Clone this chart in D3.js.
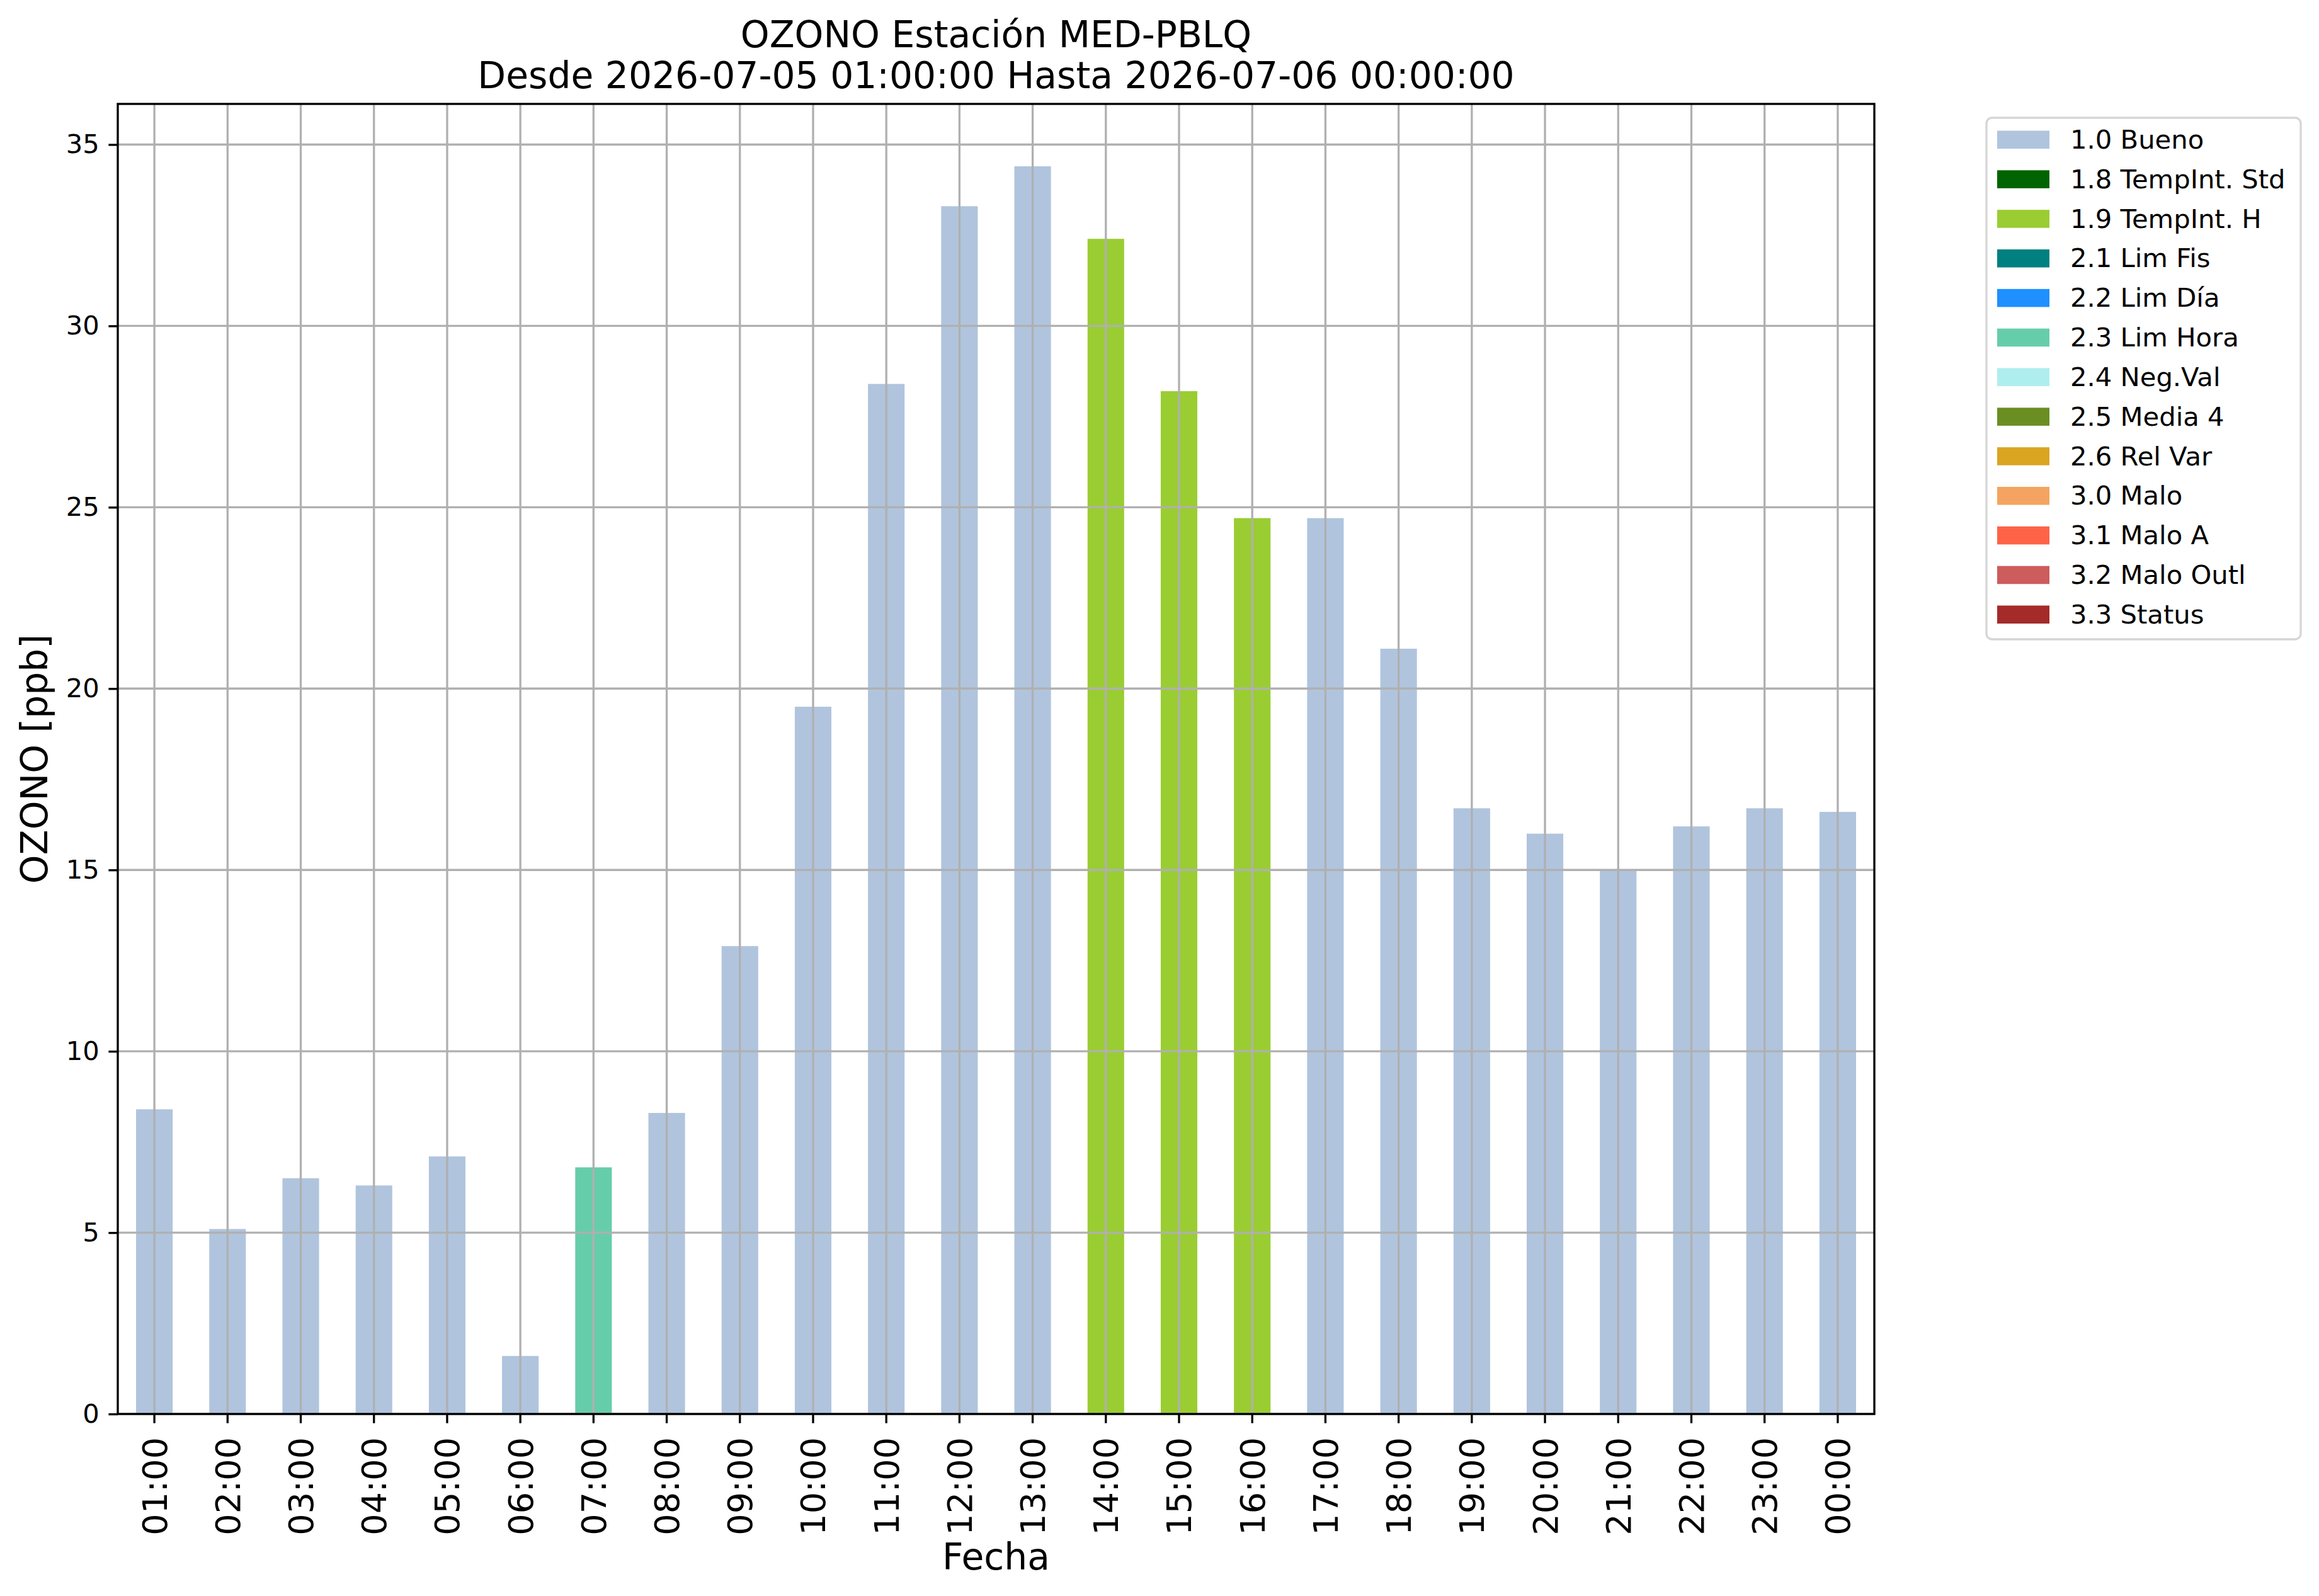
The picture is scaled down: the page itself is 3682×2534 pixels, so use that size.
<!DOCTYPE html>
<html lang="es">
<head>
    <meta charset="UTF-8">
    <title>OZONO Estación MED-PBLQ</title>
    <script type="text/javascript" src="https://d3js.org/d3.v7.min.js"></script>
    <style>
      body { margin: 0; background: #fff; }
      text { font-family: "DejaVu Sans", sans-serif; }
    </style>
</head>
<body>
<script type="text/javascript">
// Datos: horas, valores de ozono (ppb) y bandera de calidad de cada hora
var horas = ["01:00", "02:00", "03:00", "04:00", "05:00", "06:00", "07:00", "08:00",
             "09:00", "10:00", "11:00", "12:00", "13:00", "14:00", "15:00", "16:00",
             "17:00", "18:00", "19:00", "20:00", "21:00", "22:00", "23:00", "00:00"];
var valores = [8.4, 5.1, 6.5, 6.3, 7.1, 1.6, 6.8, 8.3, 12.9, 19.5, 28.4, 33.3,
               34.4, 32.4, 28.2, 24.7, 24.7, 21.1, 16.7, 16.0, 15.0, 16.2, 16.7, 16.6];
var banderas = ["1.0", "1.0", "1.0", "1.0", "1.0", "1.0", "2.3", "1.0", "1.0", "1.0", "1.0", "1.0",
                "1.0", "1.9", "1.9", "1.9", "1.0", "1.0", "1.0", "1.0", "1.0", "1.0", "1.0", "1.0"];

// Leyenda: códigos, etiquetas y colores
var codigos = ["1.0", "1.8", "1.9", "2.1", "2.2", "2.3", "2.4", "2.5", "2.6", "3.0", "3.1", "3.2", "3.3"];
var etiquetas = ["1.0 Bueno", "1.8 TempInt. Std", "1.9 TempInt. H", "2.1 Lim Fis", "2.2 Lim Día",
                 "2.3 Lim Hora", "2.4 Neg.Val", "2.5 Media 4", "2.6 Rel Var", "3.0 Malo",
                 "3.1 Malo A", "3.2 Malo Outl", "3.3 Status"];
var colores = ["#b0c4de", "#006400", "#9acd32", "#008080", "#1e90ff", "#66cdaa", "#afeeee",
               "#6b8e23", "#daa520", "#f4a460", "#ff6347", "#cd5c5c", "#a52a2a"];

var ticksY = [0, 5, 10, 15, 20, 25, 30, 35];

// Contenedor SVG
var ancho = 3682, alto = 2534;
var izq = 187, der = 2976, arriba = 165, abajo = 2245;
var lw = 3.33; // grosor de líneas (0.8 pt)

var svg = d3.select("body").append("svg")
    .attr("width", ancho)
    .attr("height", alto);

svg.append("rect").attr("width", ancho).attr("height", alto).attr("fill", "white");

// Escalas
var x = d3.scaleBand()
    .domain(horas)
    .range([izq, der])
    .paddingInner(0.5)
    .paddingOuter(0.25);

var y = d3.scaleLinear()
    .domain([0, d3.max(valores) * 1.05])
    .range([abajo, arriba]);

var color = d3.scaleOrdinal().domain(codigos).range(colores);

// Barras
svg.append("g").selectAll("rect")
    .data(valores)
    .enter()
    .append("rect")
    .attr("x", function(d, i) { return x(horas[i]); })
    .attr("y", function(d) { return y(d); })
    .attr("width", x.bandwidth())
    .attr("height", function(d) { return y(0) - y(d); })
    .attr("fill", function(d, i) { return color(banderas[i]); });

// Rejilla (encima de las barras, como en el original)
var rejilla = svg.append("g").attr("stroke", "#b0b0b0").attr("stroke-width", lw);
rejilla.selectAll("line.gx")
    .data(horas)
    .enter().append("line")
    .attr("x1", function(d) { return x(d) + x.bandwidth() / 2; })
    .attr("x2", function(d) { return x(d) + x.bandwidth() / 2; })
    .attr("y1", arriba)
    .attr("y2", abajo);
rejilla.selectAll("line.gy")
    .data(ticksY)
    .enter().append("line")
    .attr("x1", izq)
    .attr("x2", der)
    .attr("y1", function(d) { return y(d); })
    .attr("y2", function(d) { return y(d); });

// Eje Y
var ejeY = svg.append("g")
    .attr("transform", "translate(" + izq + ",0)")
    .call(d3.axisLeft(y).tickValues(ticksY).tickSize(14.6).tickPadding(14.6).tickFormat(d3.format("d")));
ejeY.select(".domain").remove();
ejeY.selectAll(".tick line").attr("stroke", "black").attr("stroke-width", lw);
ejeY.selectAll(".tick text")
    .attr("font-family", "DejaVu Sans")
    .attr("font-size", 41.7)
    .attr("fill", "black");

// Eje X
var ejeX = svg.append("g")
    .attr("transform", "translate(0," + abajo + ")")
    .call(d3.axisBottom(x).tickSize(14.6).tickPadding(14.6));
ejeX.select(".domain").remove();
ejeX.selectAll(".tick line").attr("stroke", "black").attr("stroke-width", lw);
ejeX.selectAll(".tick text")
    .attr("font-family", "DejaVu Sans")
    .attr("font-size", 54)
    .attr("fill", "black")
    .attr("text-anchor", "end")
    .attr("transform", "translate(0,37) rotate(-90)")
    .attr("x", 0)
    .attr("y", 0)
    .attr("dy", "0.36em");

// Marco de los ejes
svg.append("rect")
    .attr("x", izq).attr("y", arriba)
    .attr("width", der - izq).attr("height", abajo - arriba)
    .attr("fill", "none")
    .attr("stroke", "black")
    .attr("stroke-width", lw);

// Títulos
var cx = (izq + der) / 2;
svg.append("text").attr("x", cx).attr("y", 75).attr("text-anchor", "middle")
    .attr("font-size", 58.3).text("OZONO Estación MED-PBLQ");
svg.append("text").attr("x", cx).attr("y", 140).attr("text-anchor", "middle")
    .attr("font-size", 58.3).text("Desde 2026-07-05 01:00:00 Hasta 2026-07-06 00:00:00");
svg.append("text").attr("x", cx).attr("y", 2492).attr("text-anchor", "middle")
    .attr("font-size", 58.3).text("Fecha");
svg.append("text")
    .attr("transform", "translate(75," + ((arriba + abajo) / 2) + ") rotate(-90)")
    .attr("text-anchor", "middle")
    .attr("font-size", 58.3).text("OZONO [ppb]");

// Leyenda
var legX = 3154, legY = 187, paso = 62.83;
var leyenda = svg.append("g");
leyenda.append("rect")
    .attr("x", legX).attr("y", legY)
    .attr("width", 499).attr("height", 828)
    .attr("rx", 9).attr("ry", 9)
    .attr("fill", "white")
    .attr("stroke", "#d6d6d6")
    .attr("stroke-width", lw);
var filas = leyenda.selectAll("g.fila")
    .data(etiquetas)
    .enter().append("g")
    .attr("transform", function(d, i) { return "translate(0," + (legY + 34.8 + i * paso) + ")"; });
filas.append("rect")
    .attr("x", 3171).attr("y", -14.3)
    .attr("width", 83).attr("height", 28.6)
    .attr("fill", function(d, i) { return colores[i]; });
filas.append("text")
    .attr("x", 3287).attr("dy", "0.34em")
    .attr("font-size", 41.7)
    .text(function(d) { return d; });
</script>
</body>
</html>
